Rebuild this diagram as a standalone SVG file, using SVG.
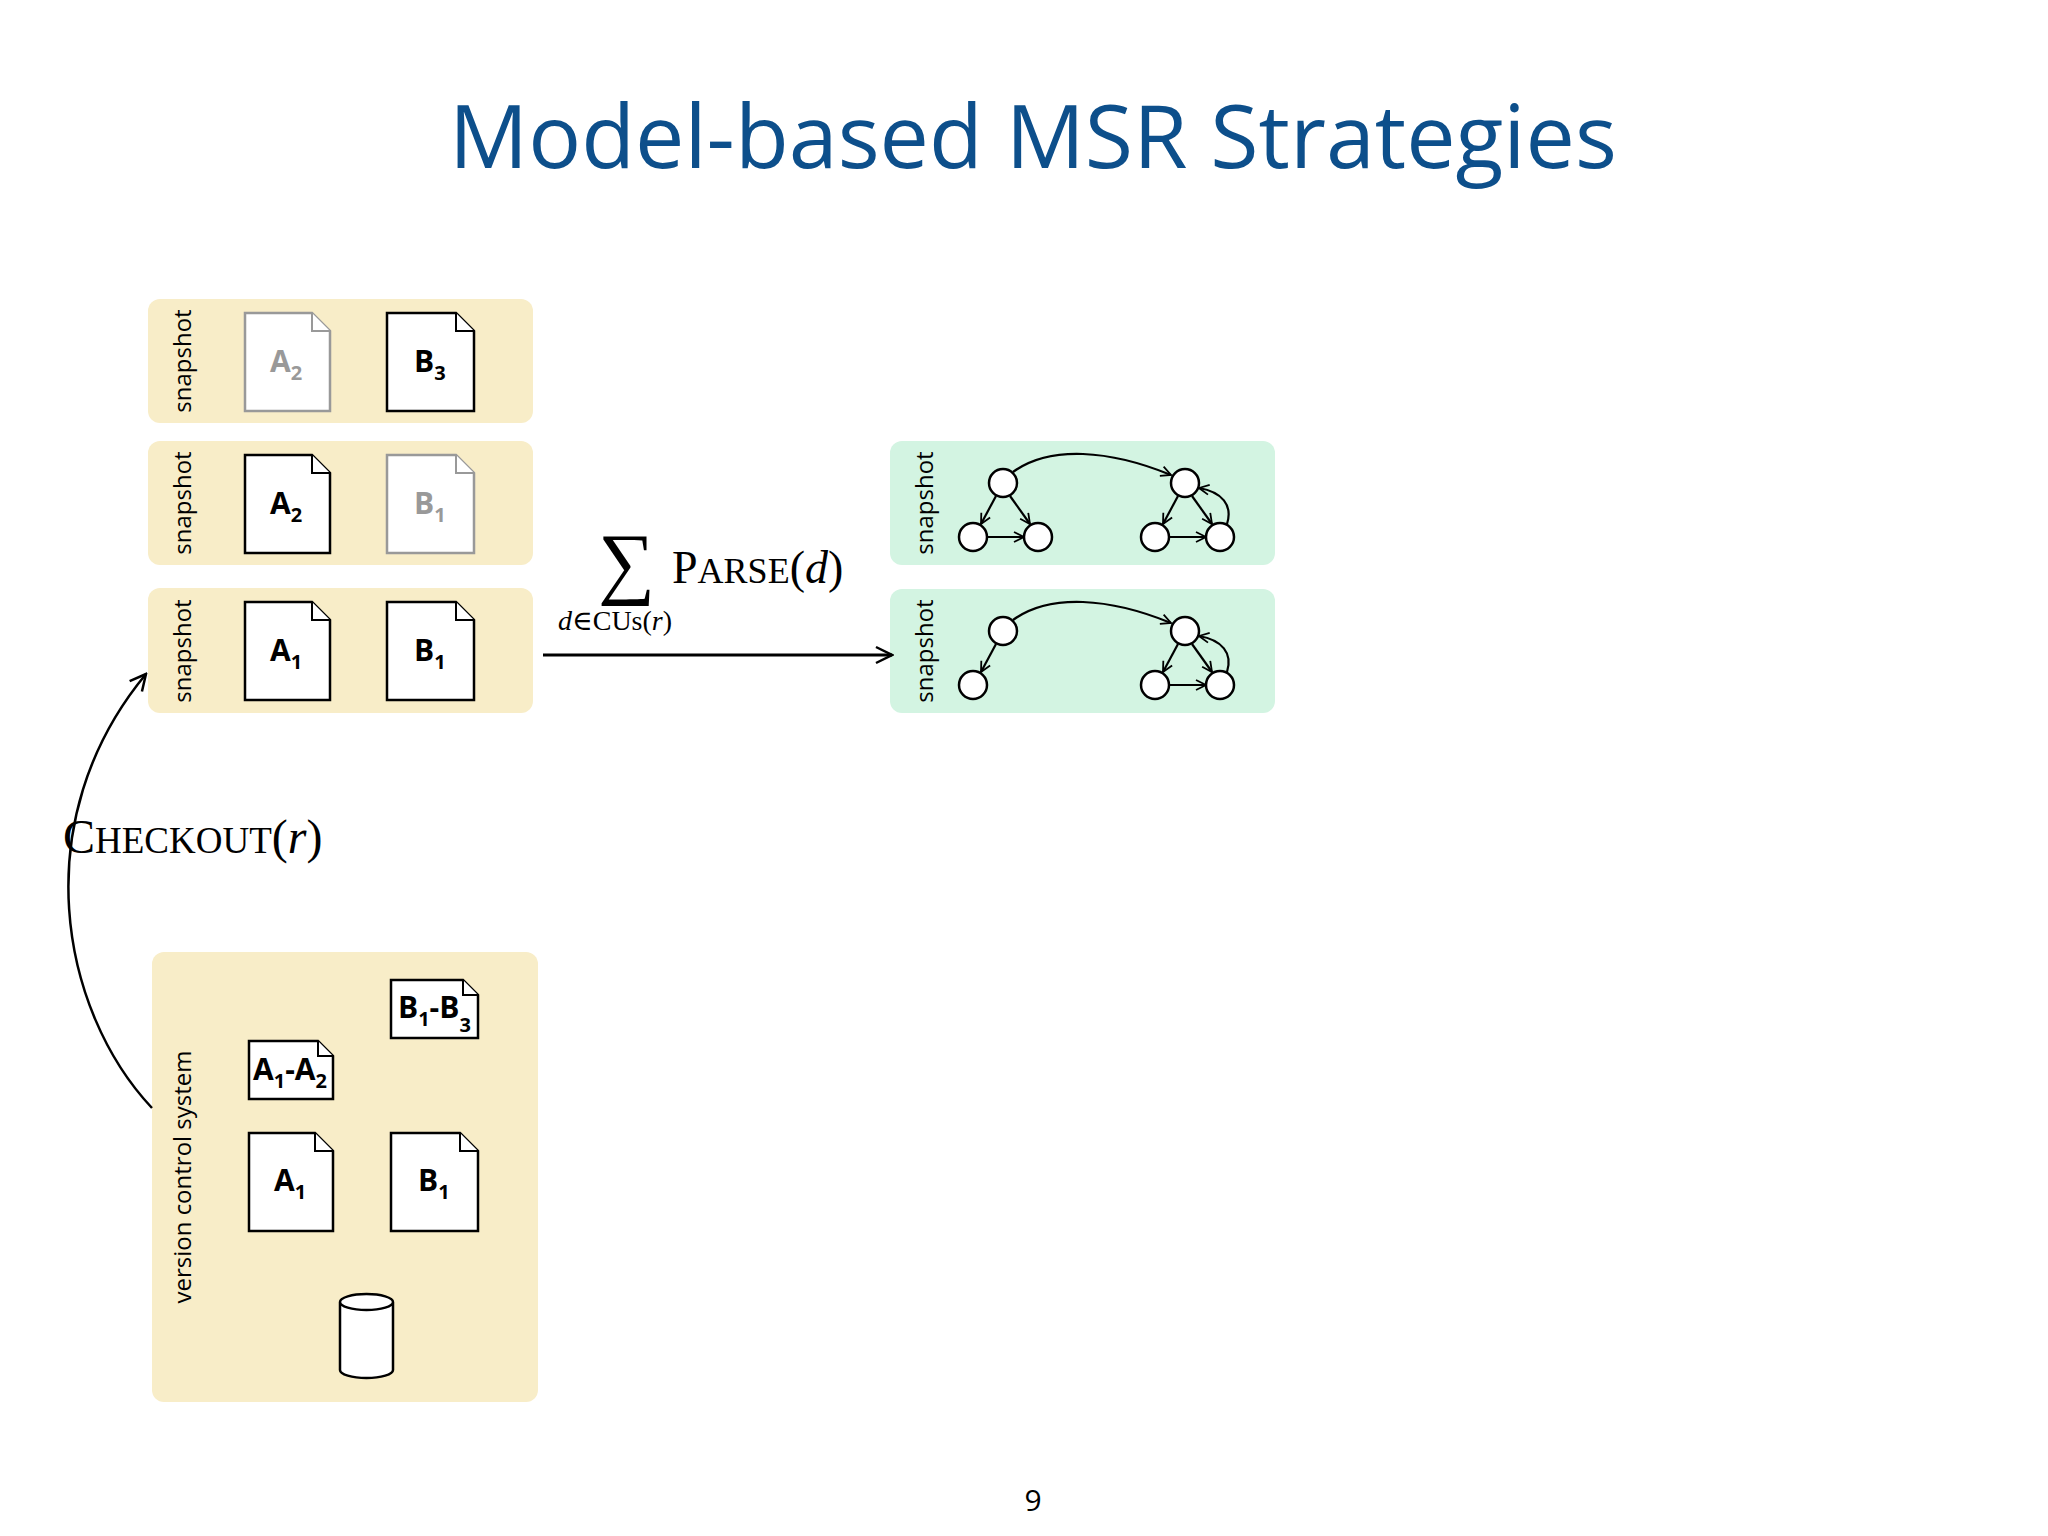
<svg xmlns="http://www.w3.org/2000/svg" width="2048" height="1536" viewBox="0 0 2048 1536">
<defs>
<style>
.yb{fill:#f8edc8}
.gb{fill:#d3f4e2}
.doc{fill:#fff;stroke:#000;stroke-width:2.5}
.docg{fill:#fff;stroke:#999;stroke-width:2.5}
.fold{fill:#fff;stroke:#000;stroke-width:2}
.foldg{fill:#fff;stroke:#999;stroke-width:2}
.dl{font-family:"Open Sans","Liberation Sans",sans-serif;font-weight:bold;font-size:30px;fill:#000}
.dlg{fill:#999}
.sub{font-size:20px}
.snap{font-family:"Open Sans","Liberation Sans",sans-serif;font-size:24px;fill:#000}
.nd{fill:#fff;stroke:#000;stroke-width:2.5}
.ed{fill:none;stroke:#000;stroke-width:2.2}
.math{font-family:"Liberation Serif","DejaVu Serif",serif;fill:#000}
</style>
<marker id="ah" viewBox="0 0 12 12" refX="11" refY="6" markerWidth="12" markerHeight="12" markerUnits="userSpaceOnUse" orient="auto">
<path d="M1,1 L11,6 L1,11" fill="none" stroke="#000" stroke-width="1.8"/>
</marker>
<marker id="ahb" viewBox="0 0 20 20" refX="18" refY="10" markerWidth="20" markerHeight="20" markerUnits="userSpaceOnUse" orient="auto">
<path d="M2,2 L18,10 L2,18" fill="none" stroke="#000" stroke-width="2.5"/>
</marker>
</defs>
<rect width="2048" height="1536" fill="#fff"/>
<text x="1033" y="168" text-anchor="middle" font-family="'Open Sans','Liberation Sans',sans-serif" font-size="88" fill="#0d4f8b">Model-based MSR Strategies</text>

<g id="snap3">
<rect class="yb" x="148" y="299" width="385" height="124" rx="12"/>
<text class="snap" transform="translate(191,361) rotate(-90)" text-anchor="middle">snapshot</text>
<path class="docg" d="M245,313 H312 L330,331 V411 H245 Z"/><path class="foldg" d="M312,313 V331 H330"/>
<text class="dl dlg" x="270" y="372">A<tspan class="sub" dy="8">2</tspan></text>
<path class="doc" d="M387,313 H456 L474,331 V411 H387 Z"/><path class="fold" d="M456,313 V331 H474"/>
<text class="dl" x="414" y="372">B<tspan class="sub" dy="8">3</tspan></text>
</g>
<g id="snap2">
<rect class="yb" x="148" y="441" width="385" height="124" rx="12"/>
<text class="snap" transform="translate(191,503) rotate(-90)" text-anchor="middle">snapshot</text>
<path class="doc" d="M245,455 H312 L330,473 V553 H245 Z"/><path class="fold" d="M312,455 V473 H330"/>
<text class="dl" x="270" y="514">A<tspan class="sub" dy="8">2</tspan></text>
<path class="docg" d="M387,455 H456 L474,473 V553 H387 Z"/><path class="foldg" d="M456,455 V473 H474"/>
<text class="dl dlg" x="414" y="514">B<tspan class="sub" dy="8">1</tspan></text>
</g>
<g id="snap1">
<rect class="yb" x="148" y="588" width="385" height="125" rx="12"/>
<text class="snap" transform="translate(191,651) rotate(-90)" text-anchor="middle">snapshot</text>
<path class="doc" d="M245,602 H312 L330,620 V700 H245 Z"/><path class="fold" d="M312,602 V620 H330"/>
<text class="dl" x="270" y="661">A<tspan class="sub" dy="8">1</tspan></text>
<path class="doc" d="M387,602 H456 L474,620 V700 H387 Z"/><path class="fold" d="M456,602 V620 H474"/>
<text class="dl" x="414" y="661">B<tspan class="sub" dy="8">1</tspan></text>
</g>
<g id="vcs">
<rect class="yb" x="152" y="952" width="386" height="450" rx="12"/>
<text class="snap" font-size="26" transform="translate(191,1177) rotate(-90)" text-anchor="middle">version control system</text>
<path class="doc" d="M249,1041 H318 L333,1056 V1099 H249 Z"/><path class="fold" d="M318,1041 V1056 H333"/>
<text class="dl" x="253" y="1080">A<tspan class="sub" dy="8">1</tspan><tspan dy="-8">-A</tspan><tspan class="sub" dy="8">2</tspan></text>
<path class="doc" d="M391,980 H463 L478,995 V1038 H391 Z"/><path class="fold" d="M463,980 V995 H478"/>
<text class="dl" x="398" y="1018">B<tspan class="sub" dy="8">1</tspan><tspan dy="-8">-B</tspan><tspan class="sub" dy="14">3</tspan></text>
<path class="doc" d="M249,1133 H315 L333,1151 V1231 H249 Z"/><path class="fold" d="M315,1133 V1151 H333"/>
<text class="dl" x="274" y="1191">A<tspan class="sub" dy="8">1</tspan></text>
<path class="doc" d="M391,1133 H460 L478,1151 V1231 H391 Z"/><path class="fold" d="M460,1133 V1151 H478"/>
<text class="dl" x="418" y="1191">B<tspan class="sub" dy="8">1</tspan></text>
<path class="doc" d="M340,1302 V1370 A26.5,8 0 0 0 393,1370 V1302 A26.5,8 0 0 0 340,1302 A26.5,8 0 0 0 393,1302"/>
</g>

<g id="graph2">
<rect class="gb" x="890" y="441" width="385" height="124" rx="12"/>
<text class="snap" transform="translate(933,503) rotate(-90)" text-anchor="middle">snapshot</text>
<path class="ed" d="M1013,472 C1050,445 1110,450 1171,475" marker-end="url(#ah)"/>
<path class="ed" d="M996,496 L981,524" marker-end="url(#ah)"/>
<path class="ed" d="M1010,496 L1030,524" marker-end="url(#ah)"/>
<path class="ed" d="M987,537 L1024,537" marker-end="url(#ah)"/>
<path class="ed" d="M1178,496 L1163,524" marker-end="url(#ah)"/>
<path class="ed" d="M1192,496 L1212,524" marker-end="url(#ah)"/>
<path class="ed" d="M1169,537 L1206,537" marker-end="url(#ah)"/>
<path class="ed" d="M1227,524 C1233,505 1222,492 1199,488" marker-end="url(#ah)"/>
<circle class="nd" cx="1003" cy="483" r="14"/><circle class="nd" cx="973" cy="537" r="14"/><circle class="nd" cx="1038" cy="537" r="14"/>
<circle class="nd" cx="1185" cy="483" r="14"/><circle class="nd" cx="1155" cy="537" r="14"/><circle class="nd" cx="1220" cy="537" r="14"/>
</g>
<g id="graph1">
<rect class="gb" x="890" y="589" width="385" height="124" rx="12"/>
<text class="snap" transform="translate(933,651) rotate(-90)" text-anchor="middle">snapshot</text>
<path class="ed" d="M1013,620 C1050,593 1110,598 1171,623" marker-end="url(#ah)"/>
<path class="ed" d="M996,644 L981,672" marker-end="url(#ah)"/>
<path class="ed" d="M1178,644 L1163,672" marker-end="url(#ah)"/>
<path class="ed" d="M1192,644 L1212,672" marker-end="url(#ah)"/>
<path class="ed" d="M1169,685 L1206,685" marker-end="url(#ah)"/>
<path class="ed" d="M1227,672 C1233,653 1222,640 1199,636" marker-end="url(#ah)"/>
<circle class="nd" cx="1003" cy="631" r="14"/><circle class="nd" cx="973" cy="685" r="14"/>
<circle class="nd" cx="1185" cy="631" r="14"/><circle class="nd" cx="1155" cy="685" r="14"/><circle class="nd" cx="1220" cy="685" r="14"/>
</g>

<g id="connectors">
<path d="M543,655 L892,655" fill="none" stroke="#000" stroke-width="3" marker-end="url(#ahb)"/>
<path d="M152,1108 C60,1010 25,820 146,674" fill="none" stroke="#000" stroke-width="2.5" marker-end="url(#ahb)"/>
</g>
<text class="math" x="598" y="589" font-size="80">∑</text>
<text class="math" x="672" y="583" font-size="46">P<tspan font-size="36">ARSE</tspan>(<tspan font-style="italic">d</tspan>)</text>
<text class="math" x="558" y="630" font-size="28"><tspan font-style="italic">d</tspan>∈CUs(<tspan font-style="italic">r</tspan>)</text>
<text class="math" x="63" y="853" font-size="48">C<tspan font-size="37">HECKOUT</tspan>(<tspan font-style="italic">r</tspan>)</text>
<text x="1033" y="1511" text-anchor="middle" font-family="'Open Sans','Liberation Sans',sans-serif" font-size="30" fill="#000">9</text>
</svg>
